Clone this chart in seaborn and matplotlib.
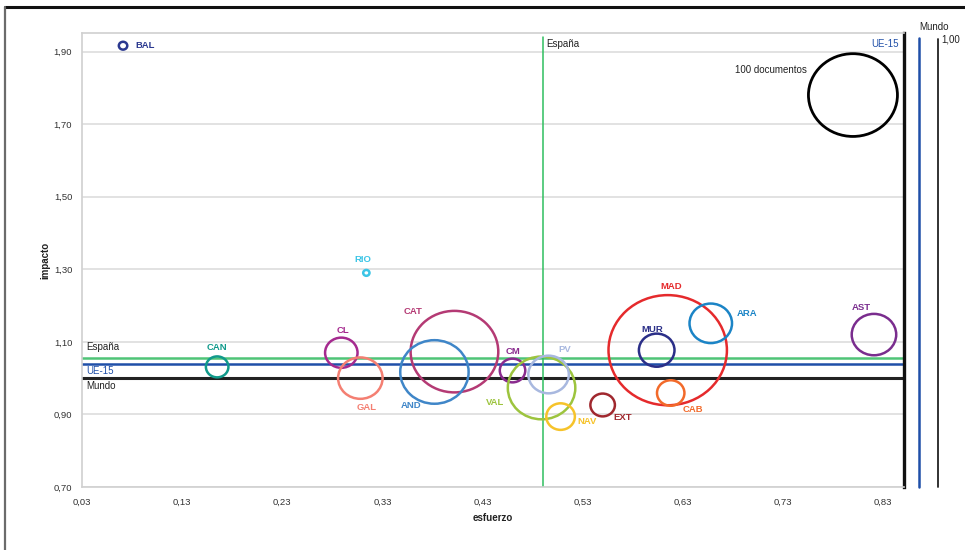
import matplotlib
matplotlib.use("Agg")
import matplotlib.pyplot as plt
import matplotlib.transforms as mtransforms
import numpy as np
import pandas as pd
import seaborn as sns
from matplotlib.lines import Line2D
from matplotlib.path import Path
from matplotlib.ticker import FuncFormatter

# Datos: esfuerzo vs impacto por comunidad autónoma
regiones = ["BAL", "CAN", "RIO", "CL", "GAL", "CAT", "AND", "CM", "VAL",
            "PV", "NAV", "EXT", "MAD", "MUR", "CAB", "ARA", "AST"]
esfuerzo = [0.071, 0.165, 0.314, 0.289, 0.308, 0.402, 0.382, 0.460, 0.489,
            0.496, 0.508, 0.550, 0.615, 0.604, 0.618, 0.658, 0.821]
impacto = [1.916, 1.031, 1.290, 1.070, 1.000, 1.073, 1.017, 1.021, 0.973,
           1.010, 0.894, 0.926, 1.077, 1.077, 0.959, 1.151, 1.120]
documentos = [0.9, 6.4, 0.5, 13.3, 25, 97, 59, 8.2, 57.5,
              20.7, 10.3, 7.6, 177, 16, 9.5, 22.8, 25]

# Referencias
ref_nombres = ["España", "UE-15", "Mundo"]
ref_impacto = [1.056, 1.040, 1.000]
ref_esfuerzo = [0.490, 0.866, 0.885]

# Burbuja de leyenda
leyenda_docs = [100]
leyenda_esf = [0.800]
leyenda_imp = [1.780]

colores = {
    "BAL": "#2b3990", "CAN": "#119a8b", "RIO": "#3cc5e6", "CL": "#a52a8f",
    "GAL": "#f47f72", "CAT": "#b43a74", "AND": "#3f86c8", "CM": "#8a2b8e",
    "VAL": "#9dc43e", "PV": "#a8b8df", "NAV": "#f6c32a", "EXT": "#a0282e",
    "MAD": "#e52a2c", "MUR": "#2b2f88", "CAB": "#f26a2a", "ARA": "#1b84c6",
    "AST": "#7a2d8e",
}
ref_colores = {"España": "#4fc477", "UE-15": "#1f4fa8", "Mundo": "#222222"}

# offsets (pixels) of the region labels from the bubble centre
offsets = {
    "BAL": (22, 0), "CAN": (0, 19), "RIO": (-4, 13), "CL": (2, 22),
    "GAL": (6, -29), "CAT": (-41, 40), "AND": (-23, -34), "CM": (0, 19),
    "VAL": (-46, -15), "PV": (16, 25), "NAV": (26, -5), "EXT": (20, -13),
    "MAD": (3, 64), "MUR": (-4, 21), "CAB": (22, -16), "ARA": (36, 10),
    "AST": (-13, 27),
}

sns.set_theme(style="white")
plt.rcParams["font.family"] = ["Liberation Sans", "DejaVu Sans"]

XMIN, XMAX = 0.03, 0.851
YMIN, YMAX = 0.70, 1.951
S100 = (89 * 0.72) ** 2  # marker area (pt^2) for 100 documentos

# slightly wide ellipse as marker, like the original bubbles
circ = Path.unit_circle()
elipse = Path(circ.vertices * np.array([1.0, 0.93]), circ.codes)

df = pd.DataFrame({"region": regiones, "esfuerzo": esfuerzo,
                   "impacto": impacto, "documentos": documentos})
df_ley = pd.DataFrame({"esfuerzo": leyenda_esf, "impacto": leyenda_imp,
                       "documentos": leyenda_docs})

fig = plt.figure(figsize=(9.65, 5.5), dpi=100)
ax = fig.add_axes([82 / 965, 1 - 487 / 550, 822 / 965, 454 / 550])

# reference lines (impacto)
for nombre, val in zip(ref_nombres, ref_impacto):
    ax.axhline(val, color=ref_colores[nombre],
               lw=2.2 if nombre == "Mundo" else 1.8, zorder=2)

# reference lines (esfuerzo)
ax.axvline(ref_esfuerzo[0], color="#2fbf5f", lw=1.1, zorder=2.5,
           ymin=0, ymax=(487 - 37) / 454)
ax.axvline(ref_esfuerzo[1], color=ref_colores["UE-15"], lw=1.8, zorder=2,
           ymin=0, ymax=(487 - 38) / 454, clip_on=False)
ax.axvline(ref_esfuerzo[2], color=ref_colores["Mundo"], lw=1.3, zorder=2,
           ymin=0, ymax=(487 - 39) / 454, clip_on=False)

# area proportional to documentos (norm range wide enough for MAD)
sns.scatterplot(data=df, x="esfuerzo", y="impacto", hue="region",
                palette=colores, size="documentos", sizes=(0, 2 * S100),
                size_norm=(0, 200), marker=elipse, legend=False, ax=ax,
                zorder=3)
sns.scatterplot(data=df_ley, x="esfuerzo", y="impacto", size="documentos",
                sizes=(S100, S100), size_norm=(0, 100), marker=elipse,
                color="black", legend=False, ax=ax, zorder=3)

# hollow bubbles
for i, coll in enumerate(ax.collections):
    fc = coll.get_facecolors()
    coll.set_edgecolors(fc)
    coll.set_facecolors("none")
    coll.set_linewidths(2.0 if i == 1 else 1.8)

for reg, x, y in zip(regiones, esfuerzo, impacto):
    dx, dy = offsets[reg]
    ax.annotate(reg, (x, y), xytext=(dx, dy), textcoords="offset pixels",
                ha="center", va="center", fontsize=6.8, fontweight="bold",
                color=colores[reg], zorder=4)

ax.annotate("100 documentos", (leyenda_esf[0], leyenda_imp[0]),
            xytext=(-46, 25), textcoords="offset pixels", ha="right",
            va="center", fontsize=7, color="#222222")

# labels of the horizontal lines
ax.annotate("España", (XMIN, ref_impacto[0]), xytext=(4, 11),
            textcoords="offset pixels", ha="left", va="center", fontsize=7,
            color="#222222")
ax.annotate("UE-15", (XMIN, ref_impacto[1]), xytext=(4, -7),
            textcoords="offset pixels", ha="left", va="center", fontsize=7,
            color=ref_colores["UE-15"])
ax.annotate("Mundo", (XMIN, ref_impacto[2]), xytext=(4, -8),
            textcoords="offset pixels", ha="left", va="center", fontsize=7,
            color="#222222")

# labels of the vertical lines
trans = mtransforms.blended_transform_factory(ax.transData, ax.transAxes)
ax.annotate("España", (ref_esfuerzo[0], 1), xycoords=trans, xytext=(4, -11),
            textcoords="offset pixels", ha="left", va="center", fontsize=7,
            color="#222222")
ax.annotate("UE-15", (XMAX, 1), xycoords=trans, xytext=(-5, -11),
            textcoords="offset pixels", ha="right", va="center", fontsize=7,
            color=ref_colores["UE-15"])
ax.annotate("Mundo", (ref_esfuerzo[2], 1), xycoords=trans, xytext=(-4, 6),
            textcoords="offset pixels", ha="center", va="center", fontsize=7,
            color="#222222", annotation_clip=False)
ax.annotate("1,00", (ref_esfuerzo[2], 1), xycoords=trans, xytext=(3, -7),
            textcoords="offset pixels", ha="left", va="center", fontsize=7,
            color="#222222", annotation_clip=False)

ax.set_xlim(XMIN, XMAX)
ax.set_ylim(YMIN, YMAX)
ax.set_xticks(np.arange(0.03, 0.84, 0.1))
ax.set_yticks(np.arange(0.70, 1.91, 0.2))
fmt = FuncFormatter(lambda v, p: f"{v:.2f}".replace(".", ","))
ax.xaxis.set_major_formatter(fmt)
ax.yaxis.set_major_formatter(fmt)
ax.tick_params(axis="both", length=0, labelsize=6.8, labelcolor="#333333")
ax.tick_params(axis="x", pad=8)
ax.tick_params(axis="y", pad=7)
ax.grid(axis="y", color="#dddddd", lw=1.2)
ax.set_axisbelow(True)

for s in ["left", "bottom", "top"]:
    ax.spines[s].set_color("#d0d0d0")
    ax.spines[s].set_linewidth(1.2)
ax.spines["right"].set_color("#111111")
ax.spines["right"].set_linewidth(2.4)

ax.set_xlabel("esfuerzo", fontsize=7, fontweight="bold", color="#222222")
ax.set_ylabel("impacto", fontsize=7, fontweight="bold", color="#222222")
ax.xaxis.set_label_coords(0.5, -0.058)
ax.yaxis.set_label_coords(-0.038, 0.5)

# frame of the figure
fig.add_artist(Line2D([5 / 965, 1], [1 - 7 / 550, 1 - 7 / 550],
                      color="#111111", lw=2.2, transform=fig.transFigure))
fig.add_artist(Line2D([5 / 965, 5 / 965], [0, 1 - 7 / 550],
                      color="#6b6b6b", lw=1.6, transform=fig.transFigure))

fig.savefig("out.png", dpi=100, facecolor="white")
